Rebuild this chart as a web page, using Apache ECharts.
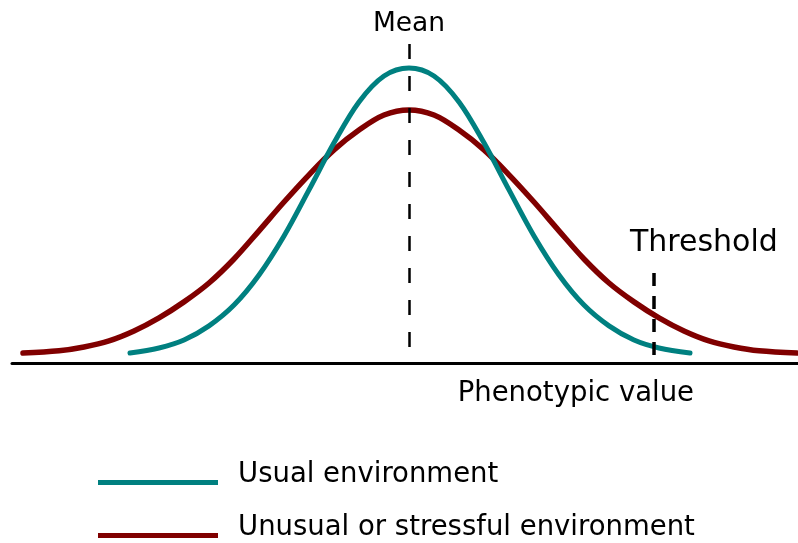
<!DOCTYPE html>
<html>
<head>
<meta charset="utf-8">
<script src="https://cdn.jsdelivr.net/npm/echarts@6/dist/echarts.min.js"></script>
<style>
html,body{margin:0;padding:0;background:#fff;}
#chart{width:798px;height:543px;}
</style>
</head>
<body>
<div id="chart"></div>
<script>
// Phenotypic value (mean = 0) and relative frequency
const usualX = [-2.79,-2.50,-2.25,-2.00,-1.75,-1.50,-1.25,-1.00,-0.75,-0.50,-0.25,0,0.25,0.50,0.75,1.00,1.25,1.50,1.75,2.00,2.25,2.50,2.81];
const usualY = [0.031,0.047,0.072,0.116,0.181,0.275,0.397,0.541,0.688,0.816,0.897,0.922,0.897,0.816,0.688,0.541,0.397,0.275,0.181,0.116,0.072,0.047,0.031];
const stressX = [-3.86,-3.50,-3.25,-3.00,-2.75,-2.50,-2.25,-2.00,-1.75,-1.50,-1.25,-1.00,-0.75,-0.50,-0.25,0,0.25,0.50,0.75,1.00,1.25,1.50,1.75,2.00,2.25,2.50,2.75,3.00,3.25,3.50,3.88];
const stressY = [0.031,0.038,0.05,0.069,0.10,0.141,0.191,0.25,0.325,0.413,0.503,0.588,0.666,0.728,0.775,0.791,0.775,0.728,0.666,0.588,0.503,0.413,0.325,0.25,0.191,0.141,0.10,0.069,0.05,0.038,0.031];
const seriesNames = ['Usual environment','Unusual or stressful environment'];
const meanValue = 0;
const meanRange = [0.05, 1.0];
const thresholdValue = 2.45;
const thresholdRange = [0.025, 0.281];
const labels = {mean:'Mean', threshold:'Threshold', axis:'Phenotypic value'};

const FONT = 'DejaVu Sans';
const zip = (xs, ys) => xs.map((x,i)=>[x, ys[i]]);
// legend icon: thin bar at the bottom of a taller (invisible) box, so the line sits at the text baseline
const LEGEND_ICON = 'path://M0,0L0,0ZM0,16L120,16L120,21L0,21Z';

const chart = echarts.init(document.getElementById('chart'), null, {renderer:'canvas'});
chart.setOption({
  animation:false,
  backgroundColor:'#ffffff',
  title:[{
    text: labels.threshold,
    left: 630, top: 228, padding:0,
    textStyle:{fontFamily:FONT, fontSize:30, fontWeight:'normal', color:'#000'}
  }],
  legend:[{
    data:[seriesNames[0]], left:98, top:460.5, padding:0, orient:'vertical',
    icon:LEGEND_ICON, itemWidth:120, itemHeight:21, selectedMode:false,
    textStyle:{fontFamily:FONT, fontSize:27.5, color:'#000', padding:[0,0,0,15]}
  },{
    data:[seriesNames[1]], left:98, top:513.5, padding:0, orient:'vertical',
    icon:LEGEND_ICON, itemWidth:120, itemHeight:21, selectedMode:false,
    textStyle:{fontFamily:FONT, fontSize:27.5, color:'#000', padding:[0,0,0,15]}
  }],
  grid:{left:12, right:0, top:43, bottom:180},
  xAxis:{
    type:'value', min:-3.97, max:3.89,
    name: labels.axis, nameLocation:'end', nameGap:-104,
    nameTextStyle:{fontFamily:FONT, fontSize:27.5, color:'#000', align:'right', verticalAlign:'top', padding:[17,0,0,0]},
    axisLine:{show:true, onZero:false, lineStyle:{color:'#000', width:3}},
    axisTick:{show:false}, axisLabel:{show:false}, splitLine:{show:false}
  },
  yAxis:{
    type:'value', min:0, max:1, show:false, splitLine:{show:false}
  },
  series:[{
    name: seriesNames[1], type:'line', data: zip(stressX, stressY),
    smooth:0.35, showSymbol:false, symbol:'none', silent:true,
    color:'#800000',
    lineStyle:{color:'#800000', width:5.5, cap:'round', join:'round'},
    markLine:{
      silent:true, symbol:['none','none'],
      lineStyle:{color:'#000', width:3.5, type:[13,10]},
      label:{show:false},
      data:[[{coord:[thresholdValue, thresholdRange[0]]},{coord:[thresholdValue, thresholdRange[1]]}]]
    }
  },{
    name: seriesNames[0], type:'line', data: zip(usualX, usualY),
    smooth:0.35, showSymbol:false, symbol:'none', silent:true,
    color:'#008080',
    lineStyle:{color:'#008080', width:5, cap:'round', join:'round'},
    markLine:{
      silent:true, symbol:['none','none'],
      lineStyle:{color:'#000', width:2.5, type:[15,17]},
      label:{show:true, position:'end', formatter: labels.mean, distance:5.5,
        fontFamily:FONT, fontSize:26.5, color:'#000'},
      data:[[{coord:[meanValue, meanRange[0]]},{coord:[meanValue, meanRange[1]]}]]
    }
  }]
});
</script>
</body>
</html>
